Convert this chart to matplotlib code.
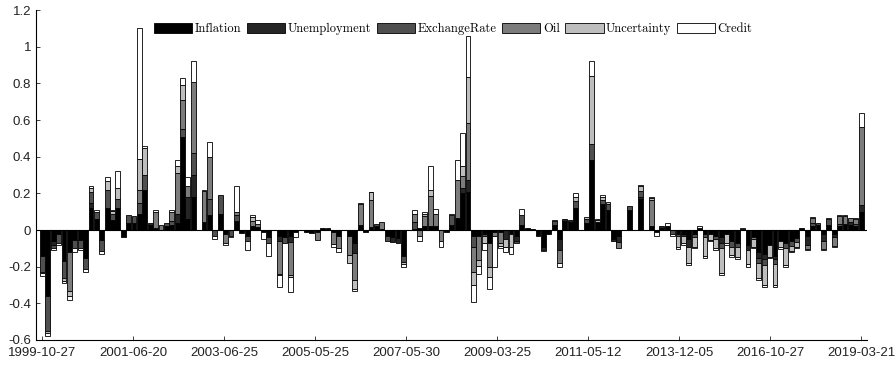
import numpy as np
import matplotlib.pyplot as plt
from matplotlib.ticker import FuncFormatter

# shock decomposition, one stacked bar per observation
tick_dates = ['1999-10-27', '2001-06-20', '2003-06-25', '2005-05-25', '2007-05-30',
              '2009-03-25', '2011-05-12', '2013-12-05', '2016-10-27', '2019-03-21']
series = ['Inflation', 'Unemployment', 'ExchangeRate', 'Oil', 'Uncertainty', 'Credit']

inflation = [
    -0.14, -0.36, -0.06, -0.02, -0.17, -0.12, -0.055, -0.055, -0.15, 0.12,
    0.06, -0.055, 0.12, 0.055, 0.12, -0.03, 0.04, 0.04, 0.09, 0.22,
    0.03, 0.01, 0, 0.02, 0.03, 0.04, 0.51, 0.06, 0.18, 0,
    0.045, 0.08, 0, 0.09, -0.02, 0, 0.05, -0.015, -0.03, 0.02,
    0.015, -0.01, -0.04, 0, -0.03, -0.04, -0.035, -0.01, 0, -0.01,
    -0.015, -0.01, 0.01, 0.005, -0.01, -0.03, 0, -0.035, -0.07, 0.03,
    -0.01, 0.015, 0.02, 0.005, -0.035, -0.04, -0.045, -0.14, 0, 0.005,
    0.01, 0.02, 0.02, 0.02, 0, -0.01, 0.03, 0.065, 0.2, 0.205,
    -0.03, -0.035, -0.02, -0.07, -0.01, -0.01, 0, -0.02, -0.03, 0.03,
    0.01, 0.005, -0.025, -0.09, -0.02, 0.03, -0.05, 0.05, 0.045, 0.12,
    0, 0.04, 0.38, 0.045, 0.14, 0.11, -0.05, -0.03, 0, 0.11,
    0, 0.17, 0, 0.02, -0.01, 0.01, 0.02, 0, -0.02, -0.02,
    -0.05, -0.02, 0.01, -0.02, -0.02, -0.03, -0.04, -0.02, -0.06, -0.07,
    0.005, -0.08, -0.04, -0.12, -0.13, -0.08, -0.14, -0.06, -0.07, -0.06,
    -0.045, 0.01, -0.03, 0.02, 0.03, -0.02, 0.03, -0.02, 0.02, 0.025,
    0.03, 0.02, 0.1]

unemployment = [
    0, 0, -0.02, 0, 0, 0, 0, 0, 0, 0.03,
    0, 0, 0, 0, 0, -0.01, 0, 0, 0, 0,
    0.01, 0, 0, 0, 0, 0.05, 0, 0.12, 0.12, 0,
    0, 0, 0, 0, 0, 0, 0, 0, 0, 0,
    0, 0, 0, 0, -0.03, 0, -0.03, 0, 0, 0,
    0, 0, 0, 0, 0, 0, 0, 0, -0.055, 0,
    0, 0, 0, 0, 0, -0.025, -0.025, 0, 0, 0,
    0, 0, 0, 0, 0, 0, 0, 0, 0.03, 0.07,
    0, 0, 0, 0, 0, 0, -0.05, 0, -0.03, 0,
    0, 0, 0, -0.02, 0, 0, -0.06, 0.01, 0.01, 0,
    0, 0, 0, 0, 0, 0, -0.01, -0.035, 0, 0,
    0, 0.01, 0, 0, 0, 0.01, 0, 0, 0, -0.01,
    -0.04, 0, 0, 0, 0, 0, -0.03, 0, 0, 0,
    0, -0.03, 0, -0.03, -0.03, 0, -0.02, 0, 0, 0,
    0, 0, -0.05, 0, 0, -0.04, 0, -0.02, 0, 0,
    0.015, 0, 0.035]

exchange_rate = [
    -0.09, -0.19, -0.02, -0.05, -0.09, 0, -0.045, -0.045, -0.06, 0.055,
    0.04, -0.06, 0.1, 0.035, 0.05, 0, 0.04, 0.035, 0.06, 0.08,
    0, 0, 0, 0.02, 0.02, 0, 0.04, 0, 0.12, 0,
    0, 0.09, -0.035, 0.1, 0, -0.03, 0.03, 0, -0.03, 0,
    0, 0, -0.03, 0, 0, -0.03, 0, 0, 0, 0,
    0, 0, 0, 0.007, 0, 0, 0, 0, 0, 0,
    0, 0, 0.015, 0, -0.025, 0, 0, -0.035, 0, 0.04,
    0, 0, 0, 0, 0, 0, 0.05, 0, 0, 0,
    -0.06, 0, -0.01, 0, 0, 0, 0, 0, -0.01, 0.05,
    0, 0, -0.01, 0, 0, 0.02, 0, 0, 0, 0.04,
    0, 0.02, 0.09, 0, 0.025, 0.03, 0, 0, 0, 0.02,
    0, 0.035, 0, 0, 0, 0, 0, -0.02, -0.015, 0,
    0, -0.02, 0, -0.02, 0, -0.02, -0.03, 0, -0.03, -0.02,
    0, 0, 0, -0.03, -0.03, 0, -0.025, 0, -0.03, -0.025,
    -0.02, 0, 0, 0.02, 0.01, 0, 0.03, 0, 0.015, 0.01,
    0, 0.015, 0]

oil = [
    0, 0, 0, 0, 0, -0.21, 0, 0, 0, 0,
    0, 0, 0, 0, 0, 0, 0, 0, 0.07, 0,
    0, 0.09, 0.025, 0, 0.05, 0.22, 0.16, 0.06, 0.39, 0,
    0.17, 0.23, 0, 0, -0.05, 0, 0.02, 0, 0, 0.03,
    0.02, 0, 0, 0, -0.18, 0, -0.18, 0, 0, 0,
    0, -0.045, 0, 0, -0.065, -0.07, 0, -0.1, -0.15, 0.11,
    0, 0.15, 0, 0.04, 0, 0, 0, 0, 0, 0.04,
    -0.035, 0.055, 0.165, 0.065, -0.06, 0, 0, 0.21, 0.065, 0.31,
    -0.14, -0.13, 0, -0.13, -0.02, -0.06, 0, 0, 0, 0,
    0, 0, 0, 0, 0, 0, -0.07, 0, 0, 0,
    0, 0, 0, 0, 0, 0, 0, -0.035, 0, 0,
    0, 0, 0, 0.145, 0, 0, 0, 0, 0, 0,
    0, 0, 0, 0, 0, 0, 0, 0, 0, 0,
    0, 0, -0.01, 0, 0, 0, 0, 0, 0, 0,
    0, 0, -0.025, 0.025, 0, -0.045, 0, -0.045, 0.04, 0.04,
    0.02, 0.025, 0.425]

uncertainty = [
    -0.005, -0.01, 0, 0, -0.02, -0.03, 0, 0, 0, 0.025,
    0, 0, 0.045, 0.015, 0.06, 0, 0, 0, 0.165, 0.15,
    0, 0, 0, 0, 0, 0.04, 0.08, 0, 0, 0,
    0, 0, 0, 0, 0, 0, 0, 0, 0, 0.02,
    0, 0, 0, 0, -0.005, 0, -0.01, 0, 0, 0,
    0, 0, 0, 0, 0, 0, 0, -0.045, -0.045, 0,
    0, 0.04, 0, 0, 0, 0, 0, -0.01, 0, 0,
    0, 0.015, 0.035, 0, 0, 0, 0, 0, 0.055, 0.25,
    -0.07, -0.03, -0.04, -0.055, 0, -0.015, -0.04, -0.07, 0, 0,
    0, 0, 0, 0, 0, 0, 0, 0, 0, 0.02,
    0, 0.01, 0.37, 0.01, 0.015, 0.015, 0, 0, 0, 0,
    0, 0.025, 0, 0.01, 0, 0, 0, 0, -0.06, -0.04,
    -0.09, -0.05, 0, -0.1, -0.035, -0.05, -0.135, -0.05, -0.045, -0.055,
    0, -0.075, -0.04, -0.08, -0.11, -0.065, -0.115, -0.035, -0.09, -0.03,
    -0.03, 0, 0, 0, 0, 0, 0, 0, 0, 0,
    0, 0, 0]

credit = [
    -0.015, -0.02, -0.01, -0.01, -0.01, -0.02, -0.02, -0.01, -0.02, 0.01,
    0.01, -0.015, 0.025, 0.005, 0.09, 0, 0, 0, 0.715, 0.01,
    0, 0.01, 0, 0, 0.01, 0.03, 0.04, 0.05, 0.11, 0,
    0.005, 0.08, -0.015, 0, -0.01, -0.01, 0.14, 0, -0.05, 0.01,
    0.02, -0.04, -0.07, 0, -0.065, 0, -0.085, -0.03, 0, 0,
    0, 0, 0, 0, -0.015, -0.02, 0, 0, -0.01, 0.01,
    0, 0.005, 0, 0, 0, 0, 0, -0.015, 0, 0.025,
    -0.025, 0.01, 0.13, 0.027, -0.035, 0, 0.01, 0.105, 0.18, 0.225,
    -0.09, -0.045, -0.04, -0.065, -0.17, -0.015, -0.03, -0.04, 0, 0.035,
    0, 0, 0, -0.005, 0, 0.005, -0.02, 0, 0, 0.02,
    0, 0, 0.08, 0.005, 0.01, 0, 0, 0, 0, 0,
    0, 0.005, 0, 0.005, -0.02, 0, 0.02, -0.01, -0.01, -0.01,
    -0.01, -0.007, 0.01, -0.01, -0.005, -0.01, -0.01, -0.01, -0.01, -0.012,
    0.005, -0.015, -0.01, -0.01, -0.01, -0.01, -0.01, -0.01, -0.01, -0.005,
    -0.005, 0, -0.005, 0.005, 0, -0.005, 0.005, -0.005, 0.005, 0.005,
    0, 0.005, 0.077]

colors = ['#000000', '#252525', '#4f4f4f', '#7c7c7c', '#bebebe', '#ffffff']

fig = plt.figure(figsize=(8.96, 3.65), dpi=100)
ax = fig.add_axes([0.0402, 0.0685, 0.9275, 0.904])

n = len(inflation)
x = np.arange(n)
pos_base = np.zeros(n)
neg_base = np.zeros(n)
handles = []
for name, vals, col in zip(series,
                           [inflation, unemployment, exchange_rate, oil, uncertainty, credit],
                           colors):
    v = np.asarray(vals, dtype=float)
    up = v > 0
    dn = v < 0
    h = ax.bar(x[up], v[up], 0.9, bottom=pos_base[up], color=col,
               edgecolor='k', linewidth=0.6, label=name)
    ax.bar(x[dn], v[dn], 0.9, bottom=neg_base[dn], color=col,
           edgecolor='k', linewidth=0.6)
    pos_base[up] += v[up]
    neg_base[dn] += v[dn]
    handles.append(h)

ax.axhline(0, color='k', linewidth=0.8)

ax.set_xlim(-1.2, n - 1 + 1.1)
ax.set_ylim(-0.6, 1.2)
ax.set_yticks(np.arange(-0.6, 1.21, 0.2))
ax.yaxis.set_major_formatter(FuncFormatter(lambda v, _: f'{round(v, 1) + 0:g}'))
ax.set_xticks(np.linspace(0, n - 1, len(tick_dates)))
ax.set_xticklabels(tick_dates)

for s in ['top', 'right']:
    ax.spines[s].set_visible(False)
for s in ['left', 'bottom']:
    ax.spines[s].set_linewidth(0.8)
ax.tick_params(direction='in', length=3, width=0.6, labelsize=9.5, colors='#222222')
ax.tick_params(axis='x', pad=5)
for lab in ax.get_xticklabels() + ax.get_yticklabels():
    lab.set_fontfamily('Liberation Sans')

fig.legend(handles=handles, labels=series, ncol=6, frameon=False,
           loc='center', bbox_to_anchor=(0.506, 0.92),
           prop={'family': 'cmr10', 'size': 9},
           handlelength=3.05, handleheight=0.85, handletextpad=0.2,
           columnspacing=0.45)

fig.savefig('out.png', dpi=100)
